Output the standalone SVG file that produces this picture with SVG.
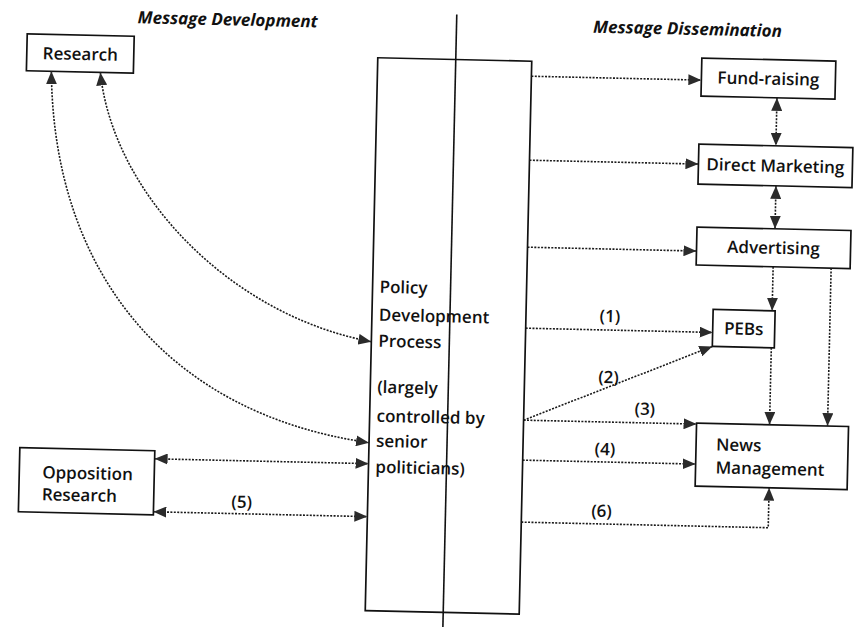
<svg xmlns="http://www.w3.org/2000/svg" width="861" height="627" viewBox="0 0 861 627">
  <style>
    .box { fill: #ffffff; stroke: #111111; stroke-width: 1.7; }
    .frame { fill: none; stroke: #111111; stroke-width: 1.7; }
    .lbl { font-family: "Open Sans", "Noto Sans", sans-serif; font-size: 17px; font-weight: 600; fill: #111111; }
    .mid { text-anchor: middle; }
    .title { font-family: "Open Sans", "Noto Sans", sans-serif; font-size: 17px; font-weight: bold; font-style: italic; fill: #111111; text-anchor: middle; }
    .num { font-family: "Open Sans", "Noto Sans", sans-serif; font-size: 17px; font-weight: 600; fill: #111111; text-anchor: middle; }
    .dot { fill: none; stroke: #1a1a1a; stroke-width: 1.6; stroke-dasharray: 2 1.4; }
    .solid { fill: none; stroke: #111111; stroke-width: 1.6; }
  </style>
  <defs>
    <marker id="arrow" viewBox="0 0 13 11" refX="13" refY="5.5" markerWidth="13" markerHeight="11" markerUnits="userSpaceOnUse" orient="auto-start-reverse">
      <path d="M0,0 L13,5.5 L0,11 z" fill="#2b2b2b"/>
    </marker>
  </defs>
  <rect width="861" height="627" fill="#ffffff"/>

  <!-- whole layout sits on a slight clockwise tilt -->
  <g transform="rotate(1.3 430 313)">
    <!-- column headings -->
    <text class="title" x="221" y="30">Message Development</text>
    <text class="title" x="681" y="29">Message Dissemination</text>

    <!-- divider between development and dissemination -->
    <line class="solid" x1="450" y1="14" x2="450" y2="632"/>

    <g id="policy">
      <rect class="frame" x="372" y="59" width="154" height="553"/>
      <text class="lbl" x="379" y="294">Policy</text>
      <text class="lbl" x="379" y="322">Development</text>
      <text class="lbl" x="379" y="348">Process</text>
      <text class="lbl" x="379" y="394">(largely</text>
      <text class="lbl" x="379" y="423">controlled by</text>
      <text class="lbl" x="379" y="448">senior</text>
      <text class="lbl" x="379" y="474">politicians)</text>
    </g>

    <g id="research">
      <rect class="box" x="21" y="43" width="107" height="37"/>
      <text class="lbl mid" x="74.5" y="68">Research</text>
    </g>

    <g id="opposition-research">
      <rect class="box" x="23" y="457" width="135" height="64"/>
      <text class="lbl" x="46" y="487">Opposition</text>
      <text class="lbl" x="46" y="509">Research</text>
    </g>

    <g id="fund-raising">
      <rect class="box" x="696" y="52" width="134" height="38"/>
      <text class="lbl mid" x="763" y="77">Fund-raising</text>
    </g>

    <g id="direct-marketing">
      <rect class="box" x="695" y="138" width="154" height="40"/>
      <text class="lbl mid" x="772" y="164">Direct Marketing</text>
    </g>

    <g id="advertising">
      <rect class="box" x="695" y="221" width="154" height="38"/>
      <text class="lbl mid" x="772" y="246">Advertising</text>
    </g>

    <g id="pebs">
      <rect class="box" x="713" y="303" width="62" height="37"/>
      <text class="lbl mid" x="744" y="327.5">PEBs</text>
    </g>

    <g id="news-management">
      <rect class="box" x="699" y="417" width="152" height="63"/>
      <text class="lbl" x="719" y="444">News</text>
      <text class="lbl" x="719" y="467">Management</text>
    </g>

    <g id="connectors">
      <!-- research feedback loops -->
      <path class="dot" d="M46,80 C52,280 170,420 372,444" marker-start="url(#arrow)" marker-end="url(#arrow)"/>
      <path class="dot" d="M95,80 C110,200 230,320 372,343" marker-start="url(#arrow)" marker-end="url(#arrow)"/>

      <!-- opposition research exchanges -->
      <path class="dot" d="M158,465 L372,465" marker-start="url(#arrow)" marker-end="url(#arrow)"/>
      <path class="dot" d="M158,518 L372,518" marker-start="url(#arrow)" marker-end="url(#arrow)"/>
      <text class="num" x="246" y="512">(5)</text>

      <!-- policy process out to the dissemination channels -->
      <path class="dot" d="M526,74 L696,74" marker-end="url(#arrow)"/>
      <path class="dot" d="M526,158 L695,158" marker-end="url(#arrow)"/>
      <path class="dot" d="M526,245 L695,245" marker-end="url(#arrow)"/>
      <path class="dot" d="M526,326 L713,326" marker-end="url(#arrow)"/>
      <text class="num" x="610" y="318">(1)</text>
      <path class="dot" d="M526,418 L713,340" marker-end="url(#arrow)"/>
      <text class="num" x="610" y="379">(2)</text>
      <path class="dot" d="M526,418 L699,418" marker-end="url(#arrow)"/>
      <text class="num" x="647" y="410">(3)</text>
      <path class="dot" d="M526,458 L699,458" marker-end="url(#arrow)"/>
      <text class="num" x="608" y="451">(4)</text>
      <path class="dot" d="M526,520 L773,520 L773,480" marker-end="url(#arrow)"/>
      <text class="num" x="606" y="513">(6)</text>

      <!-- links between the channels -->
      <path class="dot" d="M772,90 L772,138" marker-start="url(#arrow)" marker-end="url(#arrow)"/>
      <path class="dot" d="M773,178 L773,221" marker-start="url(#arrow)" marker-end="url(#arrow)"/>
      <path class="dot" d="M772,259 L772,303" marker-end="url(#arrow)"/>
      <path class="dot" d="M830,259 L830,417" marker-end="url(#arrow)"/>
      <path class="dot" d="M772,340 L772,417" marker-end="url(#arrow)"/>
    </g>
  </g>
</svg>
